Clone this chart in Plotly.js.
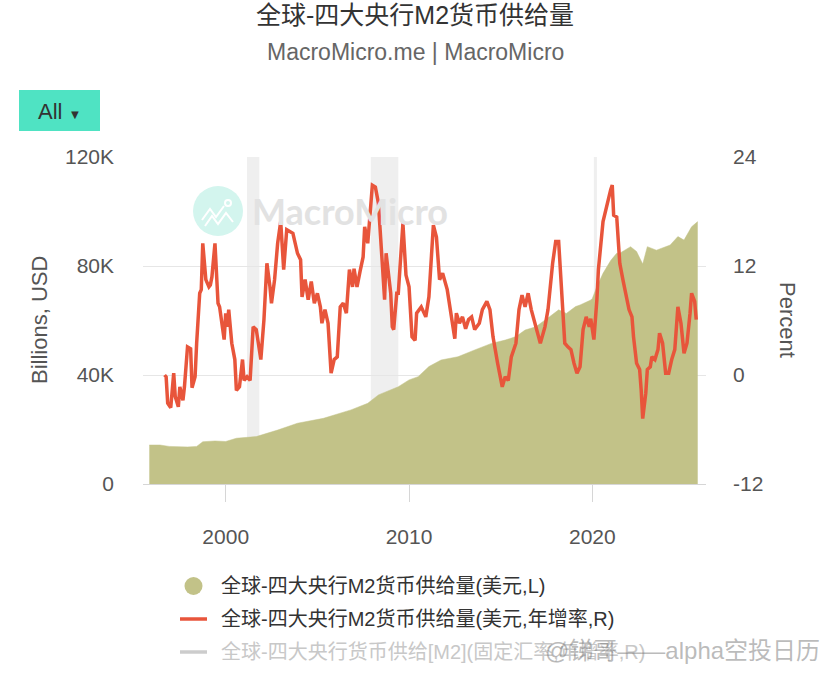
<!DOCTYPE html>
<html>
<head>
<meta charset="utf-8">
<script src="https://cdn.plot.ly/plotly-3.0.1.min.js"></script>
<style>html,body{margin:0;padding:0;background:#fff;}#chart{width:828px;height:674px;}</style>
</head>
<body>
<div id="chart"></div>
<script>
// ---- Data ----
const m2Dates = ['1995-11','1996-06','1996-12','1997-12','1998-06','1998-10','1999-06','2000-01','2000-08','2001-09','2002-11','2003-12','2005-05','2006-11','2007-10','2008-05','2009-06','2010-01','2010-07','2011-02','2011-10','2012-09','2013-08','2014-07','2015-04','2015-11','2016-05','2016-12','2017-09','2018-03','2018-08','2019-02','2019-05','2019-12','2020-01','2020-04','2020-08','2021-01','2021-05','2021-07','2022-02','2022-06','2022-10','2023-01','2023-07','2024-02','2024-04','2024-08','2024-09','2025-01','2025-03','2025-06','2025-10'];
const m2Values = [14300,14300,13800,13600,13800,15500,15800,15600,16800,17400,19800,22300,24100,27200,29600,32700,35700,38200,39400,43100,45500,46700,49200,51600,52800,54100,56500,57700,61400,63900,62600,65100,65700,67500,68100,72400,77300,82000,84700,84700,87100,85300,80700,87100,85800,87100,87700,90200,90800,89500,91400,94400,96300];

const yoyDates = ['1996-09','1996-10','1996-11','1997-01','1997-03','1997-04','1997-06','1997-07','1997-09','1997-10','1997-12','1998-02','1998-03','1998-05','1998-06','1998-08','1998-09','1998-10','1998-12','1999-02','1999-03','1999-04','1999-06','1999-07','1999-08','1999-09','1999-11','1999-12','2000-01','2000-02','2000-03','2000-05','2000-07','2000-08','2000-10','2000-12','2001-01','2001-03','2001-05','2001-07','2001-09','2001-12','2002-02','2002-04','2002-06','2002-07','2002-09','2002-11','2003-01','2003-03','2003-05','2003-09','2003-12','2004-02','2004-03','2004-05','2004-07','2004-09','2004-11','2005-01','2005-03','2005-04','2005-06','2005-08','2005-10','2005-12','2006-02','2006-04','2006-06','2006-08','2006-10','2006-12','2007-01','2007-03','2007-05','2007-07','2007-08','2007-10','2008-01','2008-03','2008-05','2008-07','2008-09','2008-10','2009-01','2009-02','2009-03','2009-05','2009-06','2009-08','2009-09','2009-11','2010-01','2010-03','2010-05','2010-06','2010-09','2010-12','2011-02','2011-05','2011-07','2011-09','2011-11','2012-02','2012-04','2012-07','2012-08','2012-10','2012-12','2013-02','2013-04','2013-06','2013-08','2013-11','2014-01','2014-04','2014-06','2014-08','2014-11','2015-02','2015-04','2015-06','2015-08','2015-11','2016-01','2016-03','2016-05','2016-07','2016-09','2016-12','2017-03','2017-06','2017-08','2017-11','2018-01','2018-03','2018-05','2018-07','2018-09','2018-11','2019-01','2019-03','2019-05','2019-07','2019-09','2019-11','2019-12','2020-02','2020-04','2020-05','2020-08','2020-09','2020-11','2021-01','2021-02','2021-03','2021-05','2021-07','2021-09','2021-11','2022-01','2022-03','2022-04','2022-06','2022-08','2022-09','2022-10','2022-12','2023-01','2023-03','2023-04','2023-06','2023-08','2023-09','2023-11','2024-01','2024-03','2024-05','2024-07','2024-09','2024-11','2025-01','2025-03','2025-05','2025-06','2025-08','2025-09'];
const yoyValues = [0.0,-0.2,-3.1,-3.6,0.2,-2.4,-3.5,-1.3,-2.8,-1.3,3.1,2.9,-1.4,-0.2,3.5,9.0,9.4,14.5,10.5,9.7,9.9,10.8,14.5,11.6,7.9,7.5,5.0,3.9,6.8,5.3,7.2,3.5,1.7,-1.7,-1.3,1.7,-0.6,-0.2,-0.6,5.3,5.0,1.7,6.1,12.3,9.7,7.9,10.5,14.5,16.9,11.6,16.0,15.6,13.4,12.7,8.6,10.5,8.3,10.3,7.9,9.0,7.5,5.7,7.2,5.7,0.2,1.7,2.0,7.5,7.9,6.8,11.6,9.7,11.7,9.7,11.4,13.0,16.3,14.5,20.9,20.7,18.9,13.4,8.3,13.4,9.0,5.3,5.0,9.0,9.0,14.1,16.7,11.0,9.7,4.2,3.8,6.8,7.5,6.4,8.6,16.5,15.2,10.5,11.2,9.4,7.2,4.0,6.8,5.7,6.4,5.1,6.1,6.4,5.0,5.7,7.2,8.1,7.2,4.2,1.3,-1.3,-0.2,-0.6,2.0,3.5,7.2,8.8,7.5,9.0,7.2,5.3,3.5,5.3,7.2,12.3,14.7,14.7,8.3,3.5,3.1,2.8,1.3,0.2,0.9,5.0,6.4,5.3,6.2,3.9,8.3,11.6,16.9,17.6,19.3,20.4,20.9,17.6,17.4,12.3,10.5,8.6,7.2,6.4,4.2,1.3,0.6,-1.7,-4.8,-2.0,0.6,0.9,2.0,1.7,2.8,4.6,3.5,0.2,0.2,1.7,2.8,7.5,5.7,2.4,3.5,6.8,9.0,8.1,6.1];

const recessionStart = ['2001-03-01','2007-12-01','2020-02-01'];
const recessionEnd   = ['2001-11-01','2009-06-01','2020-04-01'];

const leftTicks = [0,40000,80000,120000];
const leftTickText = ['0','40K','80K','120K'];
const rightTicks = [-12,0,12,24];
const rightTickText = ['-12','0','12','24'];
const xTicks = ['2000-01-01','2010-01-01','2020-01-01'];
const xTickText = ['2000','2010','2020'];

const seriesNames = [
  '全球-四大央行M2货币供给量(美元,L)',
  '全球-四大央行M2货币供给量(美元,年增率,R)',
  '全球-四大央行货币供给[M2](固定汇率,年增率,R)'
];

// ---- Styling ----
const FONT = "'Liberation Sans', Arial, 'Noto Sans CJK SC', sans-serif";
const olive = '#c2c288';
const red = '#e8553b';

// pixel -> paper helpers (plot area 143..706 x, 157..484 y)
const W = 828, H = 674;
const PL = 143, PR = 706, PT = 157, PB = 484;
const px = v => (v - PL) / (PR - PL);
const py = v => (PB - v) / (PB - PT);
const P = (a, b) => px(a) + ',' + py(b);

const traces = [
  {x: m2Dates, y: m2Values, type: 'scatter', mode: 'lines', line: {color: olive, width: 0.5},
   fill: 'tozeroy', fillcolor: olive, yaxis: 'y', name: seriesNames[0]},
  {x: yoyDates, y: yoyValues, type: 'scatter', mode: 'lines', line: {color: red, width: 3.5},
   yaxis: 'y2', name: seriesNames[1]}
];

const shapes = recessionStart.map((s, i) => ({
  type: 'rect', xref: 'x', yref: 'paper', x0: s, x1: recessionEnd[i], y0: 0, y1: 1,
  fillcolor: '#efefef', line: {width: 0}, layer: 'below'
}));
// watermark logo circle + glyph
shapes.push({type: 'circle', xref: 'paper', yref: 'paper', x0: px(193), x1: px(243), y0: py(236), y1: py(186),
  fillcolor: '#d3f5ee', line: {width: 0}, layer: 'above'});
shapes.push({type: 'path', xref: 'paper', yref: 'paper',
  path: 'M' + P(202, 220) + ' L' + P(210, 209) + ' L' + P(216, 217) + ' L' + P(224, 206) +
        ' M' + P(205, 226) + ' L' + P(212, 216) + ' L' + P(218, 224) + ' L' + P(226, 213) + ' L' + P(233, 222),
  line: {color: '#ffffff', width: 2}, layer: 'above'});
shapes.push({type: 'circle', xref: 'paper', yref: 'paper', x0: px(225), x1: px(231), y0: py(206), y1: py(200),
  fillcolor: 'rgba(0,0,0,0)', line: {color: '#ffffff', width: 2}, layer: 'above'});
// "All" button
shapes.push({type: 'rect', xref: 'paper', yref: 'paper', x0: px(19), x1: px(100), y0: py(131), y1: py(90),
  fillcolor: '#4fe3c3', line: {width: 0}});
// legend symbols
shapes.push({type: 'circle', xref: 'paper', yref: 'paper', x0: px(184.5), x1: px(202.5), y0: py(595), y1: py(577),
  fillcolor: olive, line: {width: 0}});
shapes.push({type: 'line', xref: 'paper', yref: 'paper', x0: px(180), x1: px(207), y0: py(619), y1: py(619),
  line: {color: red, width: 3.5}});
shapes.push({type: 'line', xref: 'paper', yref: 'paper', x0: px(180), x1: px(207), y0: py(652), y1: py(652),
  line: {color: '#cccccc', width: 3.5}});

const annotations = [
  {text: '全球-四大央行M2货币供给量', xref: 'paper', yref: 'paper', x: px(415), y: py(15), showarrow: false,
   font: {size: 25, color: '#333', family: FONT}, xanchor: 'center', yanchor: 'middle'},
  {text: 'MacroMicro.me | MacroMicro', xref: 'paper', yref: 'paper', x: px(415), y: py(52), showarrow: false,
   font: {size: 23, color: '#666', family: FONT}, xanchor: 'center', yanchor: 'middle'},
  {text: 'All <span style="font-size:13px">▼</span>', xref: 'paper', yref: 'paper', x: px(59), y: py(111), showarrow: false,
   font: {size: 22, color: '#333', family: FONT}, xanchor: 'center', yanchor: 'middle'},
  {text: 'Billions, USD', xref: 'paper', yref: 'paper', x: px(39), y: py(320), showarrow: false, textangle: -90,
   font: {size: 22, color: '#555', family: FONT}, xanchor: 'center', yanchor: 'middle'},
  {text: 'Percent', xref: 'paper', yref: 'paper', x: px(788), y: py(320), showarrow: false, textangle: 90,
   font: {size: 22, color: '#555', family: FONT}, xanchor: 'center', yanchor: 'middle'},
  {text: 'MacroMicro', xref: 'paper', yref: 'paper', x: px(250), y: py(211), showarrow: false,
   font: {size: 36, color: '#e2e2e2', family: "Lato, 'Open Sans', sans-serif", weight: 700}, xanchor: 'left', yanchor: 'middle'},
  // legend texts
  {text: seriesNames[0], xref: 'paper', yref: 'paper', x: px(219), y: py(586), showarrow: false,
   font: {size: 20, color: '#333', family: FONT}, xanchor: 'left', yanchor: 'middle'},
  {text: seriesNames[1], xref: 'paper', yref: 'paper', x: px(219), y: py(619), showarrow: false,
   font: {size: 20, color: '#333', family: FONT}, xanchor: 'left', yanchor: 'middle'},
  {text: seriesNames[2], xref: 'paper', yref: 'paper', x: px(219), y: py(652), showarrow: false,
   font: {size: 20, color: '#c8c8c8', family: FONT}, xanchor: 'left', yanchor: 'middle'},
  {text: '@锑哥——alpha空投日历', xref: 'paper', yref: 'paper', x: px(822), y: py(650), showarrow: false,
   font: {size: 24, color: 'rgba(120,120,120,0.5)', family: FONT}, xanchor: 'right', yanchor: 'middle'}
];

const layout = {
  width: W, height: H,
  margin: {l: PL, r: W - PR, t: PT, b: H - PB, pad: 0},
  paper_bgcolor: '#ffffff', plot_bgcolor: '#ffffff',
  font: {family: FONT, color: '#555', size: 21},
  showlegend: false,
  xaxis: {type: 'date', range: ['1995-06-28', '2026-03-15'], tickvals: xTicks, ticktext: xTickText,
    ticks: 'outside', ticklen: 17, tickcolor: '#d6d6d6', showline: true, linecolor: '#d6d6d6', linewidth: 1,
    showgrid: false, zeroline: false, tickfont: {size: 21, color: '#555'}, ticklabelstandoff: 17, tickangle: 0, fixedrange: true},
  yaxis: {range: [0, 120000], tickvals: leftTicks, ticktext: leftTickText, showgrid: true, gridcolor: '#e6e6e6',
    zeroline: false, showline: false, tickfont: {size: 21, color: '#555'}, ticklabelstandoff: 28, fixedrange: true},
  yaxis2: {range: [-12, 24], tickvals: rightTicks, ticktext: rightTickText, overlaying: 'y', side: 'right', showgrid: false,
    zeroline: false, showline: false, tickfont: {size: 21, color: '#555'}, ticklabelstandoff: 26, fixedrange: true},
  shapes: shapes,
  annotations: annotations
};

Plotly.newPlot('chart', traces, layout, {displayModeBar: false, staticPlot: true});
</script>
</body>
</html>
